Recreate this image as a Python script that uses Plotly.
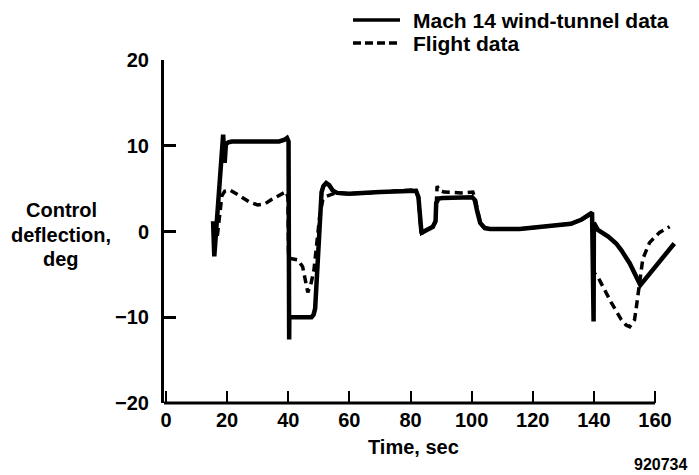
import plotly.graph_objects as go

# Mach 14 wind-tunnel prediction (time in s, control deflection in deg)
time_tunnel = [15.4, 15.8, 18.7, 19.2, 19.6, 20.4, 21.5, 30.0, 37.0, 38.8, 39.6, 40.1,
               40.3, 40.35, 47.6, 48.3, 48.8, 50.9, 51.5, 52.4, 53.4, 54.5, 56.0, 60.0,
               70.0, 80.5, 81.8, 82.6, 83.2, 83.6, 84.4, 87.3, 88.2, 88.4, 89.2, 90.5,
               100.2, 101.0, 101.8, 102.8, 104.3, 106.0, 115.7, 125.5, 132.5, 136.0,
               138.6, 139.4, 139.9, 140.0, 141.3, 144.7, 147.3, 149.0, 151.7, 152.8,
               155.2, 166.3]
defl_tunnel = [1.2, -2.9, 11.3, 8.0, 10.2, 10.4, 10.5, 10.45, 10.5, 10.7, 10.9, 10.5,
               -12.6, -10.0, -10.0, -9.7, -9.0, 4.6, 5.3, 5.65, 5.4, 4.8, 4.5, 4.4,
               4.6, 4.85, 4.75, 4.0, 1.0, -0.2, 0.0, 0.55, 1.2, 3.3, 3.85, 3.9,
               4.0, 3.7, 2.4, 1.0, 0.4, 0.3, 0.28, 0.6, 0.9, 1.4,
               1.9, 2.2, -10.5, 1.0, 0.2, -0.6, -1.4, -2.2, -3.7, -4.5,
               -6.25, -1.4]

# Flight measurement
time_flight = [16.8, 18.3, 19.2, 20.8, 23.0, 25.1, 27.5, 30.0, 32.3, 34.4, 37.0, 39.3,
               39.9, 40.1, 43.1, 44.7, 46.4, 47.5, 48.4, 49.3, 50.3, 51.3, 52.4, 55.5,
               60.0, 70.0, 80.5, 81.8, 82.6, 83.2, 83.6, 84.4, 87.3, 88.2, 88.5, 88.7,
               89.4, 91.0, 96.6, 100.4, 101.2, 102.8, 104.3, 106.0, 115.7, 125.5, 132.5,
               136.0, 138.6, 139.4, 140.0, 141.3, 142.4, 145.7, 149.0, 150.5, 151.7,
               153.3, 153.9, 155.0, 156.0, 158.2, 161.5, 164.8]
defl_flight = [-0.5, 4.2, 4.7, 4.85, 4.4, 3.9, 3.4, 3.1, 3.2, 3.7, 4.2, 4.65,
               4.0, -3.1, -3.3, -4.1, -7.1, -6.0, -4.5, -1.5, 1.8, 3.7, 4.1, 4.5,
               4.4, 4.6, 4.85, 4.75, 4.0, 1.0, -0.2, 0.0, 0.55, 1.2, 3.5, 5.3,
               4.8, 4.6, 4.5, 4.6, 3.8, 1.0, 0.4, 0.3, 0.28, 0.6, 0.9,
               1.4, 1.9, 2.1, -4.8, -5.3, -6.05, -8.3, -10.3, -10.9, -11.1,
               -10.3, -8.8, -6.0, -3.2, -1.3, -0.1, 0.56]

x_ticks = [0, 20, 40, 60, 80, 100, 120, 140, 160]
y_ticks = [-20, -10, 0, 10, 20]
y_tick_text = ["\u221220", "\u221210", "0", "10", "20"]
x_range = [-0.65, 168.5]
y_range = [-20, 20]

series_names = ["Mach 14 wind-tunnel data", "Flight data"]

W, H = 699, 475
M = dict(l=164, r=18, t=60, b=72)
PW = W - M["l"] - M["r"]
PH = H - M["t"] - M["b"]


def paper(px, py):
    """Pixel position on the page -> paper coordinates."""
    return (px - M["l"]) / PW, (H - M["b"] - py) / PH


FONT = "Liberation Sans, Arial, Helvetica, sans-serif"


def bold(size):
    return dict(family=FONT, size=size, color="black", weight="bold")


fig = go.Figure()
fig.add_trace(go.Scatter(
    x=time_flight, y=defl_flight, mode="lines", name=series_names[1],
    line=dict(color="black", width=3.5, dash="8px,5px"), showlegend=False))
fig.add_trace(go.Scatter(
    x=time_tunnel, y=defl_tunnel, mode="lines", name=series_names[0],
    line=dict(color="black", width=4.5), showlegend=False))

shapes = []
# bottom axis line, ending at the last tick
x_end = (x_ticks[-1] - x_range[0]) / (x_range[1] - x_range[0])
shapes.append(dict(type="line", xref="paper", yref="paper", x0=0, x1=x_end,
                   y0=0, y1=0, line=dict(color="black", width=3)))

# legend keys
for (py, dash) in [(20, "solid"), (43, "8px,4px")]:
    x0, y0 = paper(353, py)
    x1, _ = paper(400, py)
    shapes.append(dict(type="line", xref="paper", yref="paper", x0=x0, x1=x1,
                       y0=y0, y1=y0, line=dict(color="black", width=3.5, dash=dash)))

annotations = []
for name, py in zip(series_names, [20, 43]):
    ax, ay = paper(411, py)
    annotations.append(dict(text=name, x=ax, y=ay, xref="paper", yref="paper",
                            xanchor="left", yanchor="middle", showarrow=False, font=bold(21)))

for line_text, py in [("Control", 210), ("deflection,", 235), ("deg", 259)]:
    ax, ay = paper(61, py)
    annotations.append(dict(text=line_text, x=ax, y=ay, xref="paper", yref="paper",
                            xanchor="center", yanchor="middle", showarrow=False, font=bold(20)))

ax, ay = paper(413, 447)
annotations.append(dict(text="Time, sec", x=ax, y=ay, xref="paper", yref="paper",
                        xanchor="center", yanchor="middle", showarrow=False, font=bold(20)))
ax, ay = paper(660, 465)
annotations.append(dict(text="920734", x=ax, y=ay, xref="paper", yref="paper",
                        xanchor="center", yanchor="middle", showarrow=False, font=bold(16)))

fig.update_layout(
    width=W, height=H, margin=M,
    paper_bgcolor="white", plot_bgcolor="white",
    shapes=shapes, annotations=annotations,
    xaxis=dict(range=x_range, tickvals=x_ticks, ticktext=[str(v) for v in x_ticks],
               ticks="inside", ticklen=12, tickwidth=2, tickcolor="black",
               showline=False, showgrid=False, zeroline=False, tickfont=bold(20),
               ticklabelstandoff=3),
    yaxis=dict(range=y_range, tickvals=y_ticks, ticktext=y_tick_text,
               ticks="inside", ticklen=12, tickwidth=2.5, tickcolor="black",
               showline=True, linewidth=3, linecolor="black",
               showgrid=False, zeroline=False, tickfont=bold(20), ticklabelstandoff=8),
)

fig.write_html("out.html")
